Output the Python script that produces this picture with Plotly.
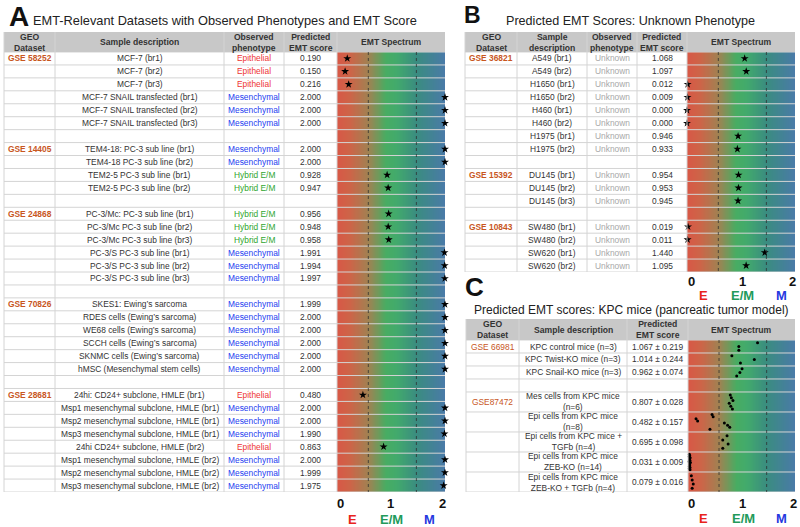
import numpy as np
import plotly.graph_objects as go

# ---------------- data ----------------
A_geo = ["GSE 58252", "", "", "", "", "", None,
         "GSE 14405", "", "", "", None,
         "GSE 24868", "", "", "", "", "", None,
         "GSE 70826", "", "", "", "", "", None,
         "GSE 28681", "", "", "", "", "", "", ""]
A_desc = ["MCF-7 (br1)", "MCF-7 (br2)", "MCF-7 (br3)",
          "MCF-7 SNAIL transfected (br1)", "MCF-7 SNAIL transfected (br2)", "MCF-7 SNAIL transfected (br3)", None,
          "TEM4-18: PC-3 sub line (br1)", "TEM4-18 PC-3 sub line (br2)",
          "TEM2-5 PC-3 sub line (br1)", "TEM2-5 PC-3 sub line (br2)", None,
          "PC-3/Mc: PC-3 sub line (br1)", "PC-3/Mc PC-3 sub line (br2)", "PC-3/Mc PC-3 sub line (br3)",
          "PC-3/S PC-3 sub line (br1)", "PC-3/S PC-3 sub line (br2)", "PC-3/S PC-3 sub line (br3)", None,
          "SKES1: Ewing’s sarcoma", "RDES cells (Ewing’s sarcoma)", "WE68 cells (Ewing’s sarcoma)",
          "SCCH cells (Ewing’s sarcoma)", "SKNMC cells (Ewing’s sarcoma)", "hMSC (Mesenchymal stem cells)", None,
          "24hi: CD24+ subclone, HMLE (br1)", "Msp1 mesenchymal subclone, HMLE (br1)",
          "Msp2 mesenchymal subclone, HMLE (br1)", "Msp3 mesenchymal subclone, HMLE (br1)",
          "24hi CD24+ subclone, HMLE (br2)", "Msp1 mesenchymal subclone, HMLE (br2)",
          "Msp2 mesenchymal subclone, HMLE (br2)", "Msp3 mesenchymal subclone, HMLE (br2)"]
A_pheno = ["Epithelial", "Epithelial", "Epithelial", "Mesenchymal", "Mesenchymal", "Mesenchymal", None,
           "Mesenchymal", "Mesenchymal", "Hybrid E/M", "Hybrid E/M", None,
           "Hybrid E/M", "Hybrid E/M", "Hybrid E/M", "Mesenchymal", "Mesenchymal", "Mesenchymal", None,
           "Mesenchymal", "Mesenchymal", "Mesenchymal", "Mesenchymal", "Mesenchymal", "Mesenchymal", None,
           "Epithelial", "Mesenchymal", "Mesenchymal", "Mesenchymal", "Epithelial", "Mesenchymal",
           "Mesenchymal", "Mesenchymal"]
A_score = [0.190, 0.150, 0.216, 2.000, 2.000, 2.000, None,
           2.000, 2.000, 0.928, 0.947, None,
           0.956, 0.948, 0.958, 1.991, 1.994, 1.997, None,
           1.999, 2.000, 2.000, 2.000, 2.000, 2.000, None,
           0.480, 2.000, 2.000, 1.990, 0.863, 2.000, 1.999, 1.975]

B_geo = ["GSE 36821", "", "", "", "", "", "", "", None,
         "GSE 15392", "", "", None,
         "GSE 10843", "", "", ""]
B_desc = ["A549 (br1)", "A549 (br2)", "H1650 (br1)", "H1650 (br2)", "H460 (br1)", "H460 (br2)",
          "H1975 (br1)", "H1975 (br2)", None,
          "DU145 (br1)", "DU145 (br2)", "DU145 (br3)", None,
          "SW480 (br1)", "SW480 (br2)", "SW620 (br1)", "SW620 (br2)"]
B_pheno = ["Unknown"] * 8 + [None] + ["Unknown"] * 3 + [None] + ["Unknown"] * 4
B_score = [1.068, 1.097, 0.012, 0.009, 0.000, 0.000, 0.946, 0.933, None,
           0.954, 0.953, 0.945, None,
           0.019, 0.011, 1.440, 1.095]

C_geo = ["GSE 66981", "", "", None, "GSE87472", "", "", "", ""]
C_desc = ["KPC control mice (n=3)", "KPC Twist-KO mice (n=3)", "KPC Snail-KO mice (n=3)", None,
          "Mes cells from KPC mice<br>(n=6)", "Epi cells from KPC mice<br>(n=8)",
          "Epi cells from KPC mice +<br>TGFb (n=4)", "Epi cells from KPC mice<br>ZEB-KO (n=14)",
          "Epi cells from KPC mice<br>ZEB-KO + TGFb (n=4)"]
C_mean = [1.067, 1.014, 0.962, None, 0.807, 0.482, 0.695, 0.031, 0.079]
C_sd = [0.219, 0.244, 0.074, None, 0.028, 0.157, 0.098, 0.009, 0.016]
C_samples = [[1.30, 0.95, 0.95],
             [0.82, 1.24, 0.98],
             [1.01, 0.97, 0.91],
             [],
             [0.79, 0.81, 0.84, 0.77, 0.80, 0.83],
             [0.45, 0.47, 0.15, 0.18, 0.68, 0.74, 0.78, 0.41],
             [0.73, 0.65, 0.75, 0.65],
             [0.025, 0.030, 0.022, 0.040, 0.028, 0.035, 0.020, 0.045, 0.030, 0.033, 0.026, 0.038, 0.024, 0.038],
             [0.062, 0.078, 0.098, 0.078]]

thresholds = [0.58, 1.47]
spectrum_ticks = ["0", "1", "2"]
spectrum_labels = ["E", "E/M", "M"]

# ---------------- styling ----------------
W, H = 800, 527
FONT = "Liberation Sans, Arial, sans-serif"
TXT = "#333333"
GRID = "rgb(212,212,212)"
HEAD_BG = "rgb(200,200,200)"
GEO_C = "#c8561e"
PHENO_C = {"Epithelial": "#ee3535", "Mesenchymal": "#2440f0", "Hybrid E/M": "#2ea62e", "Unknown": "#a8a8a8"}
LBL_C = ["#e8241c", "#239a5a", "#2438e0"]
BODY = 8.4
HEAD = 8.6

def PX(x):
    return x / W

def PY(y):
    return 1 - y / H

spec_scale = [[0.0, "rgb(216,88,70)"], [0.12, "rgb(205,100,72)"], [0.29, "rgb(160,130,82)"],
              [0.45, "rgb(72,172,98)"], [0.55, "rgb(66,170,108)"], [0.735, "rgb(58,140,128)"],
              [1.0, "rgb(74,122,168)"]]

fig = go.Figure()
shapes = []
ann = []

def text(x, y, s, size=BODY, color=TXT, bold=False, xref="paper", yref="paper", xanchor="center"):
    if bold:
        s = "<b>" + s + "</b>"
    ann.append(dict(x=x, y=y, xref=xref, yref=yref, text=s, showarrow=False,
                    font=dict(family=FONT, size=size, color=color), xanchor=xanchor, yanchor="middle"))

def build_panel(k, cols, headers, head_top, head_bot, row_h, geo, desc, pheno, score_txt,
                geo_bold, tbl_bot):
    xa = "x" if k == 1 else "x%d" % k
    ya = "y" if k == 1 else "y%d" % k
    n = len(desc)
    edges = np.concatenate([[0], np.cumsum(row_h)])
    total = edges[-1]
    shapes.append(dict(type="rect", xref="paper", yref="paper", x0=PX(cols[0]), x1=PX(cols[-1]),
                       y0=PY(head_bot), y1=PY(head_top), fillcolor=HEAD_BG, line=dict(width=0), layer="below"))
    for i, h in enumerate(headers):
        text(PX((cols[i] + cols[i + 1]) / 2), PY((head_top + head_bot) / 2), h, size=HEAD, bold=True)
    for e in edges:
        shapes.append(dict(type="line", xref="paper", yref=ya, x0=PX(cols[0]), x1=PX(cols[-1]),
                           y0=e, y1=e, line=dict(color=GRID, width=1), layer="above"))
    for c in cols[:-1]:
        shapes.append(dict(type="line", xref="paper", yref="paper", x0=PX(c), x1=PX(c),
                           y0=PY(tbl_bot), y1=PY(head_top), line=dict(color=GRID, width=1), layer="above"))
    for t in thresholds:
        shapes.append(dict(type="line", xref=xa, yref=ya, x0=t, x1=t, y0=0, y1=total,
                           line=dict(color="rgba(45,45,45,0.75)", width=1, dash="dot"), layer="above"))
    centers = (edges[:-1] + edges[1:]) / 2
    for i in range(n):
        if desc[i] is None:
            continue
        yc = centers[i]
        if geo[i]:
            text(PX((cols[0] + cols[1]) / 2), yc, geo[i], color=GEO_C, bold=geo_bold, yref=ya)
        text(PX((cols[1] + cols[2]) / 2), yc, desc[i], yref=ya)
        j = 2
        if pheno is not None:
            text(PX((cols[2] + cols[3]) / 2), yc, pheno[i], color=PHENO_C[pheno[i]], yref=ya)
            j = 3
        text(PX((cols[j] + cols[j + 1]) / 2), yc, score_txt[i], yref=ya)
    gx = np.linspace(0, 2, 201)
    fig.add_trace(go.Heatmap(x=gx, y=[0, total], z=[gx, gx], zmin=0, zmax=2, colorscale=spec_scale,
                             showscale=False, zsmooth="best", hoverinfo="skip", xaxis=xa, yaxis=ya))
    return xa, ya, centers, edges, total


# ---------------- panel A ----------------
A_cols = [4, 55, 224, 284, 337, 445]
A_head = ["GEO<br>Dataset", "Sample description", "Observed<br>phenotype", "Predicted<br>EMT score", "EMT Spectrum"]
A_txt = [None if s is None else "%.3f" % s for s in A_score]
xa, ya, cA, eA, tA = build_panel(1, A_cols, A_head, 32, 52, [1] * len(A_desc), A_geo, A_desc, A_pheno,
                                 A_txt, True, 492)
ax = [s for s in A_score if s is not None]
ay = [cA[i] for i, s in enumerate(A_score) if s is not None]
fig.add_trace(go.Scatter(x=ax, y=ay, mode="markers", marker=dict(symbol="star", size=6, color="black"),
                         cliponaxis=False, hoverinfo="skip", xaxis=xa, yaxis=ya))

# ---------------- panel B ----------------
B_cols = [465, 517, 587, 637, 687, 795]
B_head = ["GEO<br>Dataset", "Sample<br>description", "Observed<br>phenotype", "Predicted<br>EMT score", "EMT Spectrum"]
B_txt = [None if s is None else "%.3f" % s for s in B_score]
xb, yb, cB, eB, tB = build_panel(2, B_cols, B_head, 32, 52, [1] * len(B_desc), B_geo, B_desc, B_pheno,
                                 B_txt, True, 272)
bx = [s for s in B_score if s is not None]
by = [cB[i] for i, s in enumerate(B_score) if s is not None]
fig.add_trace(go.Scatter(x=bx, y=by, mode="markers", marker=dict(symbol="star", size=6, color="black"),
                         cliponaxis=False, hoverinfo="skip", xaxis=xb, yaxis=yb))

# ---------------- panel C ----------------
C_cols = [466, 519, 627, 688, 795]
C_head = ["GEO<br>Dataset", "Sample description", "Predicted<br>EMT score", "EMT Spectrum"]
C_rowh = [1, 1, 1, 1, 1.54, 1.54, 1.54, 1.54, 1.54]
C_txt = [None if m is None else "%.3f ± %.3f" % (m, s) for m, s in zip(C_mean, C_sd)]
xc, yc, cC, eC, tC = build_panel(3, C_cols, C_head, 319, 340, C_rowh, C_geo, C_desc, None,
                                 C_txt, False, 492)
cx, cy = [], []
for i, vals in enumerate(C_samples):
    n = len(vals)
    for k, v in enumerate(vals):
        cx.append(v)
        cy.append(eC[i] + (eC[i + 1] - eC[i]) * (0.08 + 0.84 * (k + 0.5) / n))
fig.add_trace(go.Scatter(x=cx, y=cy, mode="markers", marker=dict(symbol="circle", size=3, color="black"),
                         cliponaxis=False, hoverinfo="skip", xaxis=xc, yaxis=yc))

# ---------------- titles, letters, spectrum labels ----------------
text(PX(19), PY(16), "A", size=28, color="#111111", bold=True)
text(PX(225), PY(21), "EMT-Relevant Datasets with Observed Phenotypes and EMT Score", size=12.8, color="#222222")
text(PX(472), PY(15), "B", size=23, color="#111111", bold=True)
text(PX(630), PY(21), "Predicted EMT Scores: Unknown Phenotype", size=12.6, color="#222222")
text(PX(474), PY(287), "C", size=26, color="#111111", bold=True)
text(PX(631), PY(310), "Predicted EMT scores: KPC mice (pancreatic tumor model)", size=12, color="#222222")

for xs, ly, lx, lyy in [([340, 390, 442], 503, [352, 391, 429], 519),
                        ([691, 742, 792], 281, [703, 742, 781], 295),
                        ([691, 742, 793], 503, [703, 743, 781], 518)]:
    for t, x in zip(spectrum_ticks, xs):
        text(PX(x), PY(ly), t, size=13, color="#111111", bold=True)
    for t, x, c in zip(spectrum_labels, lx, LBL_C):
        text(PX(x), PY(lyy), t, size=13, color=c, bold=True)

ax_common = dict(visible=False, range=[0, 2], fixedrange=True)
fig.update_layout(
    width=W, height=H, margin=dict(l=0, r=0, t=0, b=0),
    paper_bgcolor="white", plot_bgcolor="white", showlegend=False,
    shapes=shapes, annotations=ann,
    xaxis=dict(domain=[PX(337), PX(445)], anchor="y", **ax_common),
    yaxis=dict(domain=[PY(492), PY(52)], anchor="x", range=[tA, 0], visible=False),
    xaxis2=dict(domain=[PX(687), PX(795)], anchor="y2", **ax_common),
    yaxis2=dict(domain=[PY(272), PY(52)], anchor="x2", range=[tB, 0], visible=False),
    xaxis3=dict(domain=[PX(688), PX(795)], anchor="y3", **ax_common),
    yaxis3=dict(domain=[PY(492), PY(340)], anchor="x3", range=[tC, 0], visible=False),
)
fig.write_html("out.html", config={"displayModeBar": False},
               post_script="document.body.style.margin='0';document.body.style.overflow='hidden';")
